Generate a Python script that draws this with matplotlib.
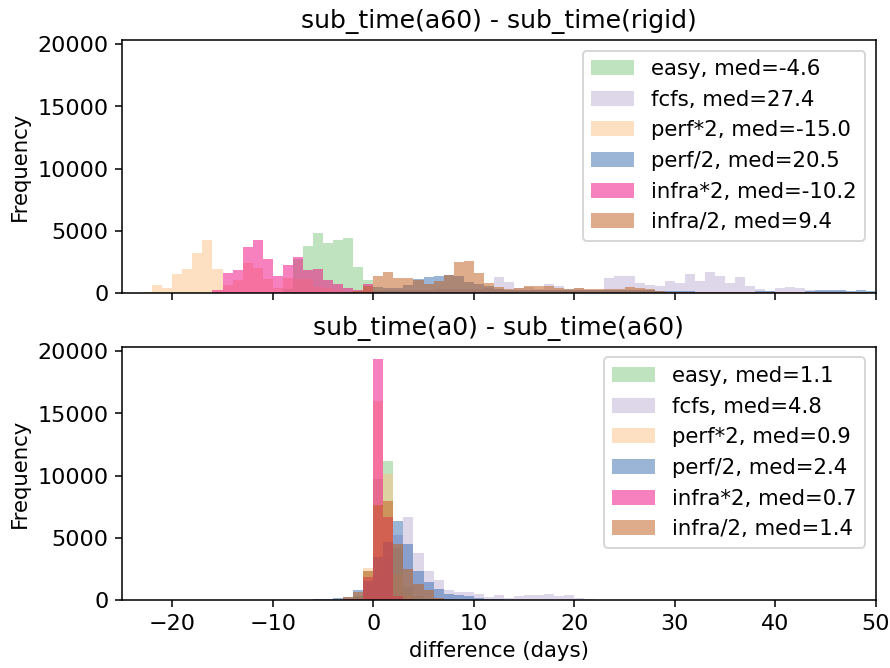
import numpy as np
import matplotlib.pyplot as plt

# histogram counts per 1-day bin; each series is (left edge of first bin, counts)
labels = ['easy', 'fcfs', 'perf*2', 'perf/2', 'infra*2', 'infra/2']
colors = ['#7fc97f', '#beaed4', '#fdc086', '#386cb0', '#f0027f', '#bf5b17']

top_title = 'sub_time(a60) - sub_time(rigid)'
top_medians = [-4.6, 27.4, -15.0, 20.5, -10.2, 9.4]
top_easy = (-10, [100, 300, 2700, 3740, 4860, 3980, 4220, 4380, 2055, 1015, 150, 80, 50])
top_fcfs = (-3, [50, 80, 100, 150, 200, 200, 250, 250, 250, 300, 300, 300, 300, 350, 400,
                 1255, 855, 375, 500, 350, 695, 535, 300, 375, 250, 250, 1175, 1335, 1335,
                 775, 615, 535, 935, 775, 1495, 935, 1655, 1335, 775, 1255, 535, 295, 130,
                 375, 455, 375, 215, 150, 130, 120, 110, 100, 90])
top_perf2 = (-23, [80, 615, 375, 1500, 1900, 3180, 4220, 1900, 615, 1015, 2375, 1975, 1095,
                   375, 1175, 1095, 1095, 455, 375, 200, 100])
top_perfh = (-1, [100, 500, 375, 375, 615, 1095, 1255, 1335, 1415, 1335, 855, 695, 535, 300,
                  250, 250, 250, 250, 250, 250, 250, 250, 200, 200, 200, 200, 200, 200, 200,
                  150, 150, 135, 135, 100, 100, 80, 80, 80, 100, 130, 135, 100, 100, 100, 160,
                  215, 215, 215, 135, 215, 135])
top_infra2 = (-16, [200, 1575, 1815, 3660, 4220, 2700, 1335, 2215, 2860, 1815, 1900, 1015,
                    695, 375, 215, 695, 55])
top_infrah = (-3, [50, 150, 535, 1335, 1655, 1175, 1175, 1015, 720, 935, 1415, 2455, 2535,
                   1575, 775, 455, 295, 375, 535, 535, 535, 375, 295, 375, 295, 295, 295, 295,
                   455, 375, 295, 135, 80, 60, 60, 60, 60, 60, 60, 60, 100, 60, 60, 80, 80,
                   80, 60, 80, 80, 80, 50, 50, 50])

bot_title = 'sub_time(a0) - sub_time(a60)'
bot_medians = [1.1, 4.8, 0.9, 2.4, 0.7, 1.4]
bot_easy = (-3, [50, 300, 2320, 9690, 11130, 4170, 1000, 300, 100])
bot_fcfs = (-3, [50, 200, 1000, 2000, 3500, 5210, 6650, 3790, 2350, 1630, 830, 670, 670,
                 510, 190, 350, 110, 270, 350, 430, 510, 270, 350, 110, 50])
bot_perf2 = (-3, [30, 100, 2560, 16020, 10090, 2000, 500, 100])
bot_perfh = (-6, [30, 80, 160, 240, 800, 1500, 3445, 4650, 6330, 4490, 2320, 1470, 910, 510,
                  350, 270, 110, 80, 30])
bot_infra2 = (-3, [30, 80, 1840, 19380, 6650, 320, 50])
bot_infrah = (-3, [240, 640, 2320, 7610, 7930, 4490, 2480, 1280, 830, 160])

plt.rcParams['font.size'] = 11
plt.rcParams['xtick.labelsize'] = 11.5
plt.rcParams['ytick.labelsize'] = 11.5
plt.rcParams['axes.titlesize'] = 13
plt.rcParams['legend.fontsize'] = 11


def draw_panel(ax, series, medians, title):
    for (start, counts), lab, med, col in zip(series, labels, medians, colors):
        counts = np.array(counts, dtype=float)
        edges = np.arange(start, start + len(counts) + 1)
        ax.hist(edges[:-1], bins=edges, weights=counts, color=col, alpha=0.5,
                label=f'{lab}, med={med:.1f}')
    ax.set_title(title)
    ax.set_ylabel('Frequency')
    ax.legend(loc='upper right')


fig, (ax1, ax2) = plt.subplots(2, 1, sharex=True, sharey=True, figsize=(6.4, 4.8), dpi=139.2)
draw_panel(ax1, [top_easy, top_fcfs, top_perf2, top_perfh, top_infra2, top_infrah],
           top_medians, top_title)
draw_panel(ax2, [bot_easy, bot_fcfs, bot_perf2, bot_perfh, bot_infra2, bot_infrah],
           bot_medians, bot_title)
ax2.set_xlim(-25, 50)
ax2.set_xlabel('difference (days)')
fig.subplots_adjust(left=0.137, right=0.983, top=0.94, bottom=0.102, hspace=0.213)
fig.savefig('out.png', dpi=139.2)
